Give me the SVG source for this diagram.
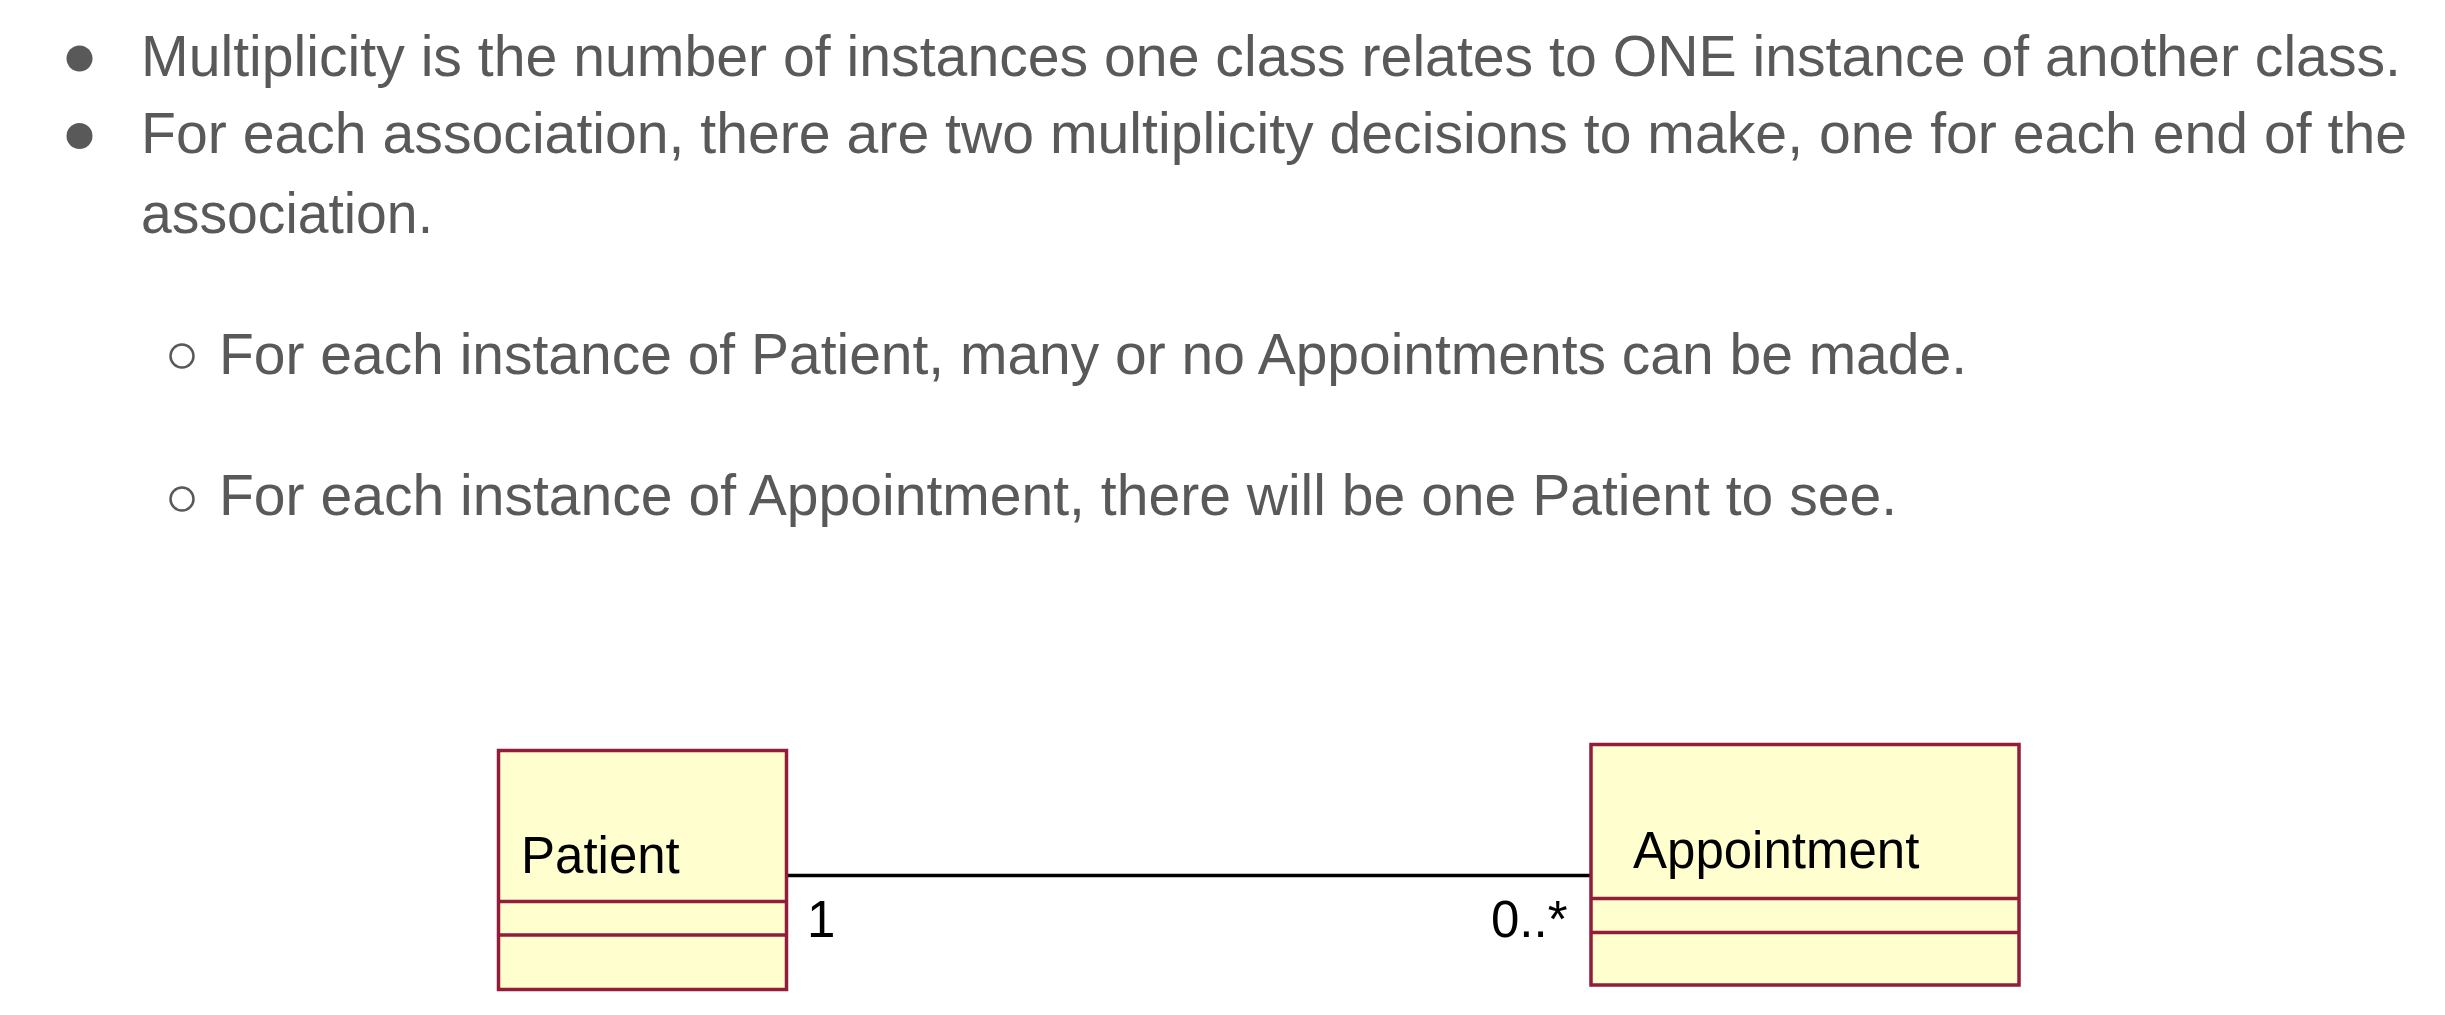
<svg xmlns="http://www.w3.org/2000/svg" width="2445" height="1015" viewBox="0 0 2445 1015">
<style>
.t{font-family:"Liberation Sans",Arial,sans-serif;font-size:58px;fill:#595959}
.lbl{font-family:"Liberation Sans",Arial,sans-serif;font-size:51px;fill:#000}
.box{fill:#FEFECE;stroke:#921C3C;stroke-width:3.5}
.div{stroke:#921C3C;stroke-width:3.5;fill:none}
.dot{fill:#595959}
.ring{fill:none;stroke:#595959;stroke-width:2.5}
</style>
<rect width="2445" height="1015" fill="#fff"/>
<g id="text">
<circle class="dot" cx="79.5" cy="58.5" r="13"/>
<text class="t" x="141" y="76" textLength="2260" lengthAdjust="spacingAndGlyphs">Multiplicity is the number of instances one class relates to ONE instance of another class.</text>
<circle class="dot" cx="79.5" cy="136" r="13"/>
<text class="t" x="141" y="153" textLength="2266" lengthAdjust="spacingAndGlyphs">For each association, there are two multiplicity decisions to make, one for each end of the</text>
<text class="t" x="141" y="233" textLength="292" lengthAdjust="spacingAndGlyphs">association.</text>
<circle class="ring" cx="182" cy="356" r="11.5"/>
<text class="t" x="219" y="374" textLength="1748" lengthAdjust="spacingAndGlyphs">For each instance of Patient, many or no Appointments can be made.</text>
<circle class="ring" cx="182" cy="499" r="11.5"/>
<text class="t" x="219" y="515" textLength="1678" lengthAdjust="spacingAndGlyphs">For each instance of Appointment, there will be one Patient to see.</text>
</g>
<g id="connectors">
<line x1="787" y1="875.5" x2="1591" y2="875.5" stroke="#000" stroke-width="3.5"/>
<text class="lbl" x="807" y="937" font-size="52">1</text>
<text class="lbl" x="1491" y="937" font-size="52">0..*</text>
</g>
<g id="patient">
<rect class="box" x="498.5" y="750.5" width="288" height="239"/>
<line class="div" x1="498.5" y1="901.5" x2="786.5" y2="901.5"/>
<line class="div" x1="498.5" y1="935" x2="786.5" y2="935"/>
<text class="lbl" x="521" y="873">Patient</text>
</g>
<g id="appointment">
<rect class="box" x="1591" y="744.5" width="428" height="240.5"/>
<line class="div" x1="1591" y1="898.5" x2="2019" y2="898.5"/>
<line class="div" x1="1591" y1="932.5" x2="2019" y2="932.5"/>
<text class="lbl" x="1633" y="868">Appointment</text>
</g>
</svg>
